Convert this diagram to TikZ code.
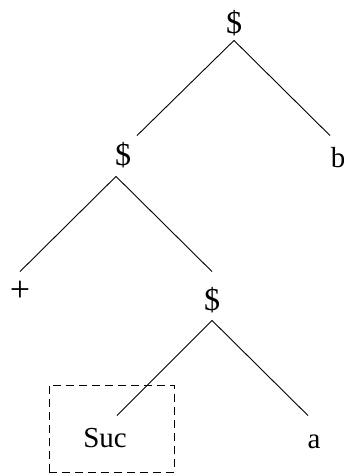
\documentclass[tikz,border=0pt]{standalone}
\usepackage{fontspec}
\setmainfont{Liberation Serif}
\usepackage{tikz}

\begin{document}
\begin{tikzpicture}[x=1pt, y=-1pt, line width=0.9pt,
    every node/.style={font=\fontsize{29}{34}\selectfont},
    sym/.style={inner sep=0pt, minimum height=34pt},
    dollar/.style={sym, font=\fontsize{32}{36}\selectfont},
    markbox/.style={draw, dash pattern=on 8pt off 5pt, inner sep=0pt,
                    minimum width=125pt, minimum height=87pt}]
  \useasboundingbox (0,0) rectangle (344,473);
  % tree labels
  \node[dollar] (root)  at (234,23)  {\$};
  \node[dollar] (left)  at (123,155) {\$};
  \node[sym] (b)     at (338,158) {b};
  \node[sym, font=\fontsize{36}{40}\selectfont] (plus) at (20,291) {+};
  \node[dollar] (right) at (212,300) {\$};
  \node[sym] (suc)   at (105,438) {Suc};
  \node[sym] (a)     at (314,442) {a};
  % branches
  \draw (root.south) -- ([xshift=14pt,yshift=2pt]left.north);
  \draw (root.south) -- ([xshift=-8pt,yshift=5pt]b.north);
  \draw ([xshift=-7pt,yshift=-4pt]left.south) -- ([yshift=2pt]plus.north);
  \draw ([xshift=-7pt,yshift=-4pt]left.south) -- ([yshift=11pt]right.north);
  \draw ([yshift=-3pt]right.south) -- ([xshift=12pt,yshift=5pt]suc.north);
  \draw ([yshift=-3pt]right.south) -- ([xshift=-6pt,yshift=9pt]a.north);
  % dashed frame
  \node[markbox] (sucbox) at (111.5,428.5) {};
\end{tikzpicture}
\end{document}
